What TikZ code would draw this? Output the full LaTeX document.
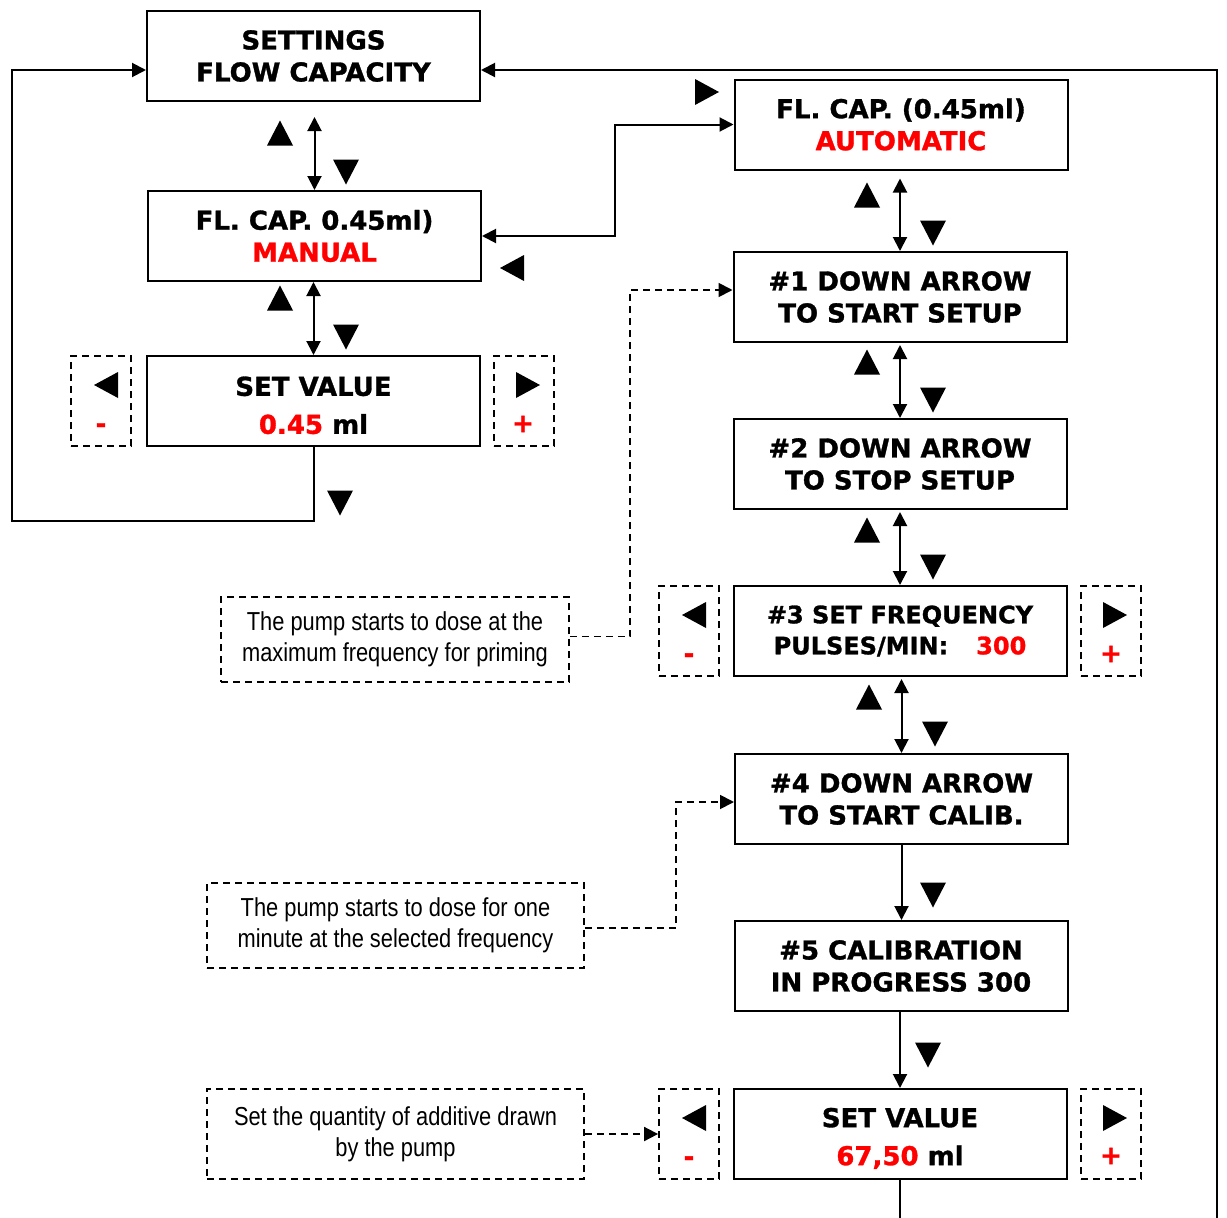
\documentclass[tikz,border=0pt]{standalone}
\usepackage{fontspec}
\usetikzlibrary{arrows.meta}
\newfontfamily\boxfont{DejaVu Sans}[BoldFeatures={FakeBold=1.2}]
\newfontfamily\notefont{Liberation Sans}[FakeStretch=0.84]
\definecolor{myred}{RGB}{255,0,0}
\tikzset{
  triup/.pic={\fill (-13,12.5) -- (13,12.5) -- (0,-12.5) -- cycle;},
  tridown/.pic={\fill (-13,-12.5) -- (13,-12.5) -- (0,12.5) -- cycle;},
  trileft/.pic={\fill (12,-13) -- (12,13) -- (-12,0) -- cycle;},
  triright/.pic={\fill (-12,-13) -- (-12,13) -- (12,0) -- cycle;},
}
\begin{document}
\begin{tikzpicture}[x=1pt,y=-1pt,
  box/.style={draw, line width=2pt, minimum width=333pt, minimum height=90pt, inner sep=0pt, align=center,
    font=\boxfont\bfseries\fontsize{26}{32}\selectfont},
  sidebox/.style={draw, dash pattern=on 7pt off 5pt, line width=1.8pt, minimum width=60pt, minimum height=90pt, inner sep=0pt},
  note/.style={draw, dash pattern=on 7pt off 5pt, line width=1.6pt, inner sep=0pt, align=center,
    font=\notefont\fontsize{26}{31}\selectfont},
  sign/.style={text=myred, inner sep=0pt, font=\boxfont\bfseries\fontsize{26}{30}\selectfont},
  conn/.style={line width=2pt, >={Triangle[length=14pt,width=14pt]}},
  dconn/.style={line width=1.8pt, dash pattern=on 7pt off 5pt, >={Triangle[length=14pt,width=14pt]}},
]
\useasboundingbox (0,0) rectangle (1227,1218);

% main boxes
\node[box] (set) at (313.5,56) {SETTINGS\\FLOW CAPACITY};
\node[box] (man) at (314.5,236) {FL. CAP. 0.45ml)\\\textcolor{myred}{MANUAL}};
\node[box] (sv1) at (313.5,401) {\rule{0pt}{28pt}SET VALUE\\[6pt]\textcolor{myred}{0.45} ml};
\node[box] (auto) at (901,124.5) {FL. CAP. (0.45ml)\\\textcolor{myred}{AUTOMATIC}};
\node[box] (n1) at (900,297) {\#1 DOWN ARROW\\TO START SETUP};
\node[box] (n2) at (900,464) {\#2 DOWN ARROW\\TO STOP SETUP};
\node[box, font=\boxfont\bfseries\fontsize{24}{31}\selectfont] (n3) at (900,631) {\#3 SET FREQUENCY\\PULSES/MIN:\hspace{28pt}\textcolor{myred}{300}};
\node[box] (n4) at (901.5,799) {\#4 DOWN ARROW\\TO START CALIB.};
\node[box] (n5) at (901,966) {\#5 CALIBRATION\\IN PROGRESS 300};
\node[box] (sv2) at (900,1134) {\rule{0pt}{28pt}SET VALUE\\[6pt]\textcolor{myred}{67,50} ml};

% side boxes
\node[sidebox] (m1) at (101,401) {};
\node[sidebox] (p1) at (524,401) {};
\node[sidebox] (m3) at (689,631) {};
\node[sidebox] (p3) at (1111,631) {};
\node[sidebox] (m6) at (689,1134) {};
\node[sidebox] (p6) at (1111,1134) {};
\pic at (106,385) {trileft};
\pic at (528,385) {triright};
\pic at (694,615) {trileft};
\pic at (1115,615) {triright};
\pic at (694,1118) {trileft};
\pic at (1115,1118) {triright};
\node[sign] (m1s) at (101,428) {-};
\node[sign] (p1s) at (523,424) {+};
\node[sign] (m3s) at (689,658) {-};
\node[sign] (p3s) at (1111,654) {+};
\node[sign] (m6s) at (689,1161) {-};
\node[sign] (p6s) at (1111,1156) {+};

% notes
\node[note, minimum width=348pt, minimum height=85pt] (c1) at (395,639.5) {The pump starts to dose at the\\maximum frequency for priming};
\node[note, minimum width=377pt, minimum height=85pt] (c2) at (395.5,925.5) {The pump starts to dose for one\\minute at the selected frequency};
\node[note, minimum width=377pt, minimum height=90pt] (c3) at (395.5,1134) {Set the quantity of additive drawn\\by the pump};

% key triangles
\pic at (280,133) {triup};
\pic at (346,172) {tridown};
\pic at (280,298) {triup};
\pic at (346,337) {tridown};
\pic at (340,503) {tridown};
\pic at (707,92) {triright};
\pic at (512,268) {trileft};
\pic at (867,195) {triup};
\pic at (933,233) {tridown};
\pic at (867,362) {triup};
\pic at (933,400) {tridown};
\pic at (867,530) {triup};
\pic at (933,567) {tridown};
\pic at (869,697) {triup};
\pic at (935,734) {tridown};
\pic at (933,895) {tridown};
\pic at (928,1055) {tridown};

% connectors
\draw[conn,<->] ([yshift=-15pt]set.south -| man.north) -- (man.north);
\draw[conn,<->] (man.south -| sv1.north) -- (sv1.north);
\draw[conn,<->] (man.east) -- ++(133,0) |- (auto.west);
\draw[conn,<->] ([yshift=-8pt]auto.south -| n1.north) -- (n1.north);
\draw[conn,<->] ([yshift=-2pt]n1.south) -- (n2.north);
\draw[conn,<->] ([yshift=-2pt]n2.south) -- (n3.north);
\draw[conn,<->] ([yshift=-2pt]n3.south -| n4.north) -- (n4.north);
\draw[conn,->] (n4.south -| n4.north) -- (n4.south |- n5.north);
\draw[conn,->] (n5.south -| sv2.north) -- (sv2.north);

\coordinate (lc) at (12,521);
\coordinate (rb) at (1217,1222);
\draw[conn,->] (sv1.south) |- (lc) |- ([yshift=-14pt]set.west);
\draw[conn,->] (rb) |- ([yshift=-14pt]set.east);
\draw[conn] (sv2.south) -- (sv2.south |- rb);

\draw[dconn,->] ([yshift=3pt]c1.east) -- ++(60,0) |- ([yshift=7pt]n1.west);
\draw[dconn,->] ([yshift=-2.5pt]c2.east) -- ++(91,0) |- ([yshift=-3pt]n4.west);
\draw[dconn,->] (c3.east) -- (m6.west);
\end{tikzpicture}
\end{document}
